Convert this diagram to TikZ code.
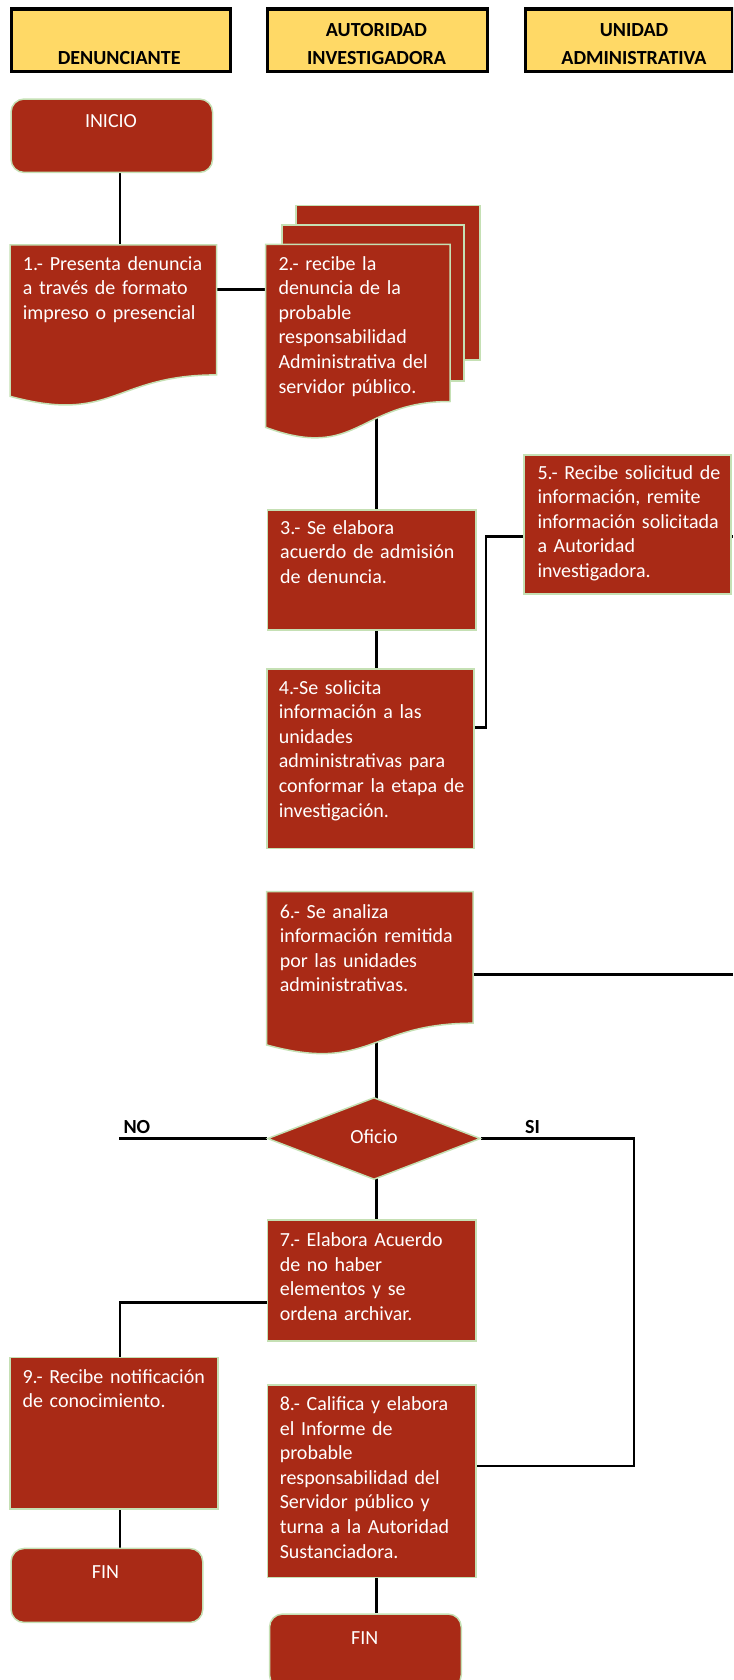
\documentclass[tikz,border=0pt]{standalone}
\usepackage{fontspec}
\setmainfont{Carlito}
\usetikzlibrary{shapes.geometric,backgrounds}
\definecolor{redc}{HTML}{A92A16}
\definecolor{greenb}{HTML}{C5E0B4}
\definecolor{yellowc}{HTML}{FFD966}
\begin{document}
\begin{tikzpicture}[x=1pt,y=-1pt,
  hdr/.style={draw=black, fill=yellowc, line width=3.3pt, anchor=north west, inner sep=0pt},
  hdrtxt/.style={font=\bfseries\fontsize{20}{24}\selectfont, anchor=base, inner sep=0pt},
  box/.style={draw=greenb, fill=redc, line width=1.5pt, anchor=north west, inner sep=0pt},
  term/.style={box, rounded corners=13pt},
  ghost/.style={anchor=north west, inner sep=0pt},
  shp/.style={draw=greenb, fill=redc, line width=1.5pt},
  body/.style={text=white, font=\fontsize{20}{24.6}\selectfont, align=left, text width=230pt, anchor=base west, inner sep=0pt},
  ctr/.style={text=white, font=\fontsize{20}{24}\selectfont, anchor=base, inner sep=0pt},
  conn/.style={line width=2.6pt, draw=black},
  lbl/.style={font=\bfseries\fontsize{20}{24}\selectfont, anchor=base west, inner sep=0pt}]
\useasboundingbox (0,0) rectangle (733,1680);
\clip (0,0) rectangle (733,1680);

% headers
\node[hdr, minimum width=219pt, minimum height=62.5pt] (h1) at (9.5,7.5) {};
\node[hdr, minimum width=220.5pt, minimum height=62.5pt] (h2) at (265.5,7.5) {};
\node[hdr, minimum width=207.5pt, minimum height=62.5pt] (h3) at (523.6,7.5) {};
\node[hdrtxt] (ht1) at (119.2,64.6) {DENUNCIANTE};
\node[hdrtxt] (ht2a) at (376.5,36.3) {AUTORIDAD};
\node[hdrtxt] (ht2b) at (376.5,64.6) {INVESTIGADORA};
\node[hdrtxt] (ht3a) at (634,36.3) {UNIDAD};
\node[hdrtxt] (ht3b) at (634,64.6) {ADMINISTRATIVA};

% terminals
\node[term, minimum width=201.5pt, minimum height=73.4pt] (inicio) at (10.3,98.3) {};
\node[ctr] (tinicio) at (111,127.1) {INICIO};
\node[term, minimum width=191.7pt, minimum height=74pt] (fin1) at (10.3,1547.7) {};
\node[ctr] (tfin1) at (105.5,1578.1) {FIN};
\node[term, minimum width=191.7pt, minimum height=74pt] (fin2) at (268.8,1613.3) {};
\node[ctr] (tfin2) at (364.7,1644.1) {FIN};

% document 1
\path[shp] (10,245) -- (216.7,245) -- (216.7,374.9) .. controls (113.35,374.9) and (113.35,424.4) .. (10,396.3) -- cycle;
\node[ghost, minimum width=206.7pt, minimum height=130pt] (b1) at (10,245) {};

% multidocument 2
\node[box, minimum width=184pt, minimum height=154.3pt] (b2c) at (295,205) {};
\node[box, minimum width=182.3pt, minimum height=155.7pt] (b2b) at (281,224.3) {};
\path[shp] (265.7,244.3) -- (450,244.3) -- (450,401.5) .. controls (357.85,401.5) and (357.85,461.4) .. (265.7,427.4) -- cycle;
\node[ghost, minimum width=184.3pt, minimum height=157pt] (b2) at (265.7,244.3) {};

% rectangles
\node[box, minimum width=208.3pt, minimum height=120pt] (b3) at (266.7,509) {};
\node[box, minimum width=207.3pt, minimum height=179.4pt] (b4) at (266,668.3) {};
\node[box, minimum width=207pt, minimum height=139.3pt] (b5) at (523.3,454) {};
\node[box, minimum width=208.5pt, minimum height=120.7pt] (b7) at (266.5,1219.3) {};
\node[box, minimum width=208.5pt, minimum height=192.7pt] (b8) at (266.5,1384) {};
\node[box, minimum width=208pt, minimum height=151.6pt] (b9) at (9.4,1356.7) {};

% document 6
\path[shp] (266.5,891.7) -- (473,891.7) -- (473,1023.2) .. controls (369.75,1023.2) and (369.75,1073.3) .. (266.5,1044.9) -- cycle;
\node[ghost, minimum width=206.5pt, minimum height=131.5pt] (b6) at (266.5,891.7) {};

% decision
\node[diamond, draw=greenb, fill=redc, line width=1.5pt, minimum width=213pt, minimum height=82pt, inner sep=0pt] (dia) at (374,1138.5) {};
\node[ctr] (tdia) at (374,1143) {Oficio};
\node[lbl] (lno) at (123.3,1133.1) {NO};
\node[lbl] (lsi) at (525,1133.1) {SI};

% texts
\node[body] (t1) at (22.7,270.2) {1.- Presenta denuncia\\a través de formato\\impreso o presencial};
\node[body] (t2) at (278.3,270.2) {2.- recibe la\\denuncia de la\\probable\\responsabilidad\\Administrativa del\\servidor público.};
\node[body] (t3) at (280,534.1) {3.- Se elabora\\acuerdo de admisión\\de denuncia.};
\node[body] (t4) at (278.7,694.1) {4.-Se solicita\\información a las\\unidades\\administrativas para\\conformar la etapa de\\investigación.};
\node[body] (t5) at (537.3,479.1) {5.- Recibe solicitud de\\información, remite\\información solicitada\\a Autoridad\\investigadora.};
\node[body] (t6) at (279.6,918.1) {6.- Se analiza\\información remitida\\por las unidades\\administrativas.};
\node[body] (t7) at (279.6,1246.4) {7.- Elabora Acuerdo\\de no haber\\elementos y se\\ordena archivar.};
\node[body] (t8) at (279.6,1410.4) {8.- Califica y elabora\\el Informe de\\probable\\responsabilidad del\\Servidor público y\\turna a la Autoridad\\Sustanciadora.};
\node[body] (t9) at (22.4,1383.1) {9.- Recibe notificación\\de conocimiento.};

% helper coordinates
\coordinate (xa) at (120,0);
\coordinate (xb) at (376.7,0);
\coordinate (xc) at (486,0);
\coordinate (xd) at (376.3,0);
\coordinate (xs) at (634,0);
\coordinate (ya) at (0,289.3);
\coordinate (yd) at (0,727.3);
\coordinate (ye) at (0,536.7);
\coordinate (yf) at (0,974.3);
\coordinate (yg) at (0,1466);
\coordinate (yh) at (0,1302.7);
\coordinate (edge5) at (733,536.7);
\coordinate (edge6) at (733,974.3);
\coordinate (noend) at (119.3,0);

\begin{scope}[on background layer]
\draw[conn] (inicio.south -| xa) -- (b1.north -| xa);
\draw[conn] (b1.east |- ya) -- (b2.west |- ya);
\draw[conn] (b2.center -| xb) -- (b3.north -| xb);
\draw[conn] (b3.south -| xb) -- (b4.north -| xb);
\draw[conn] (b4.east |- yd) -| (xc |- ye) -- (b5.west |- ye);
\draw[conn] (b5.east |- ye) -- (edge5);
\draw[conn] (b6.east |- yf) -- (edge6);
\draw[conn] (b6.center -| xd) -- (dia.center -| xd);
\draw[conn] (dia.center -| xd) -- (b7.north -| xd);
\draw[conn] (dia.west) -- (dia.west -| noend);
\draw[conn] (dia.east) -| (xs |- yg) -- (b8.east |- yg);
\draw[conn] (b7.west |- yh) -| (b9.north -| xa);
\draw[conn] (b9.south -| xa) -- (fin1.north -| xa);
\draw[conn] (b8.south -| xd) -- (fin2.north -| xd);
\end{scope}
\end{tikzpicture}
\end{document}
